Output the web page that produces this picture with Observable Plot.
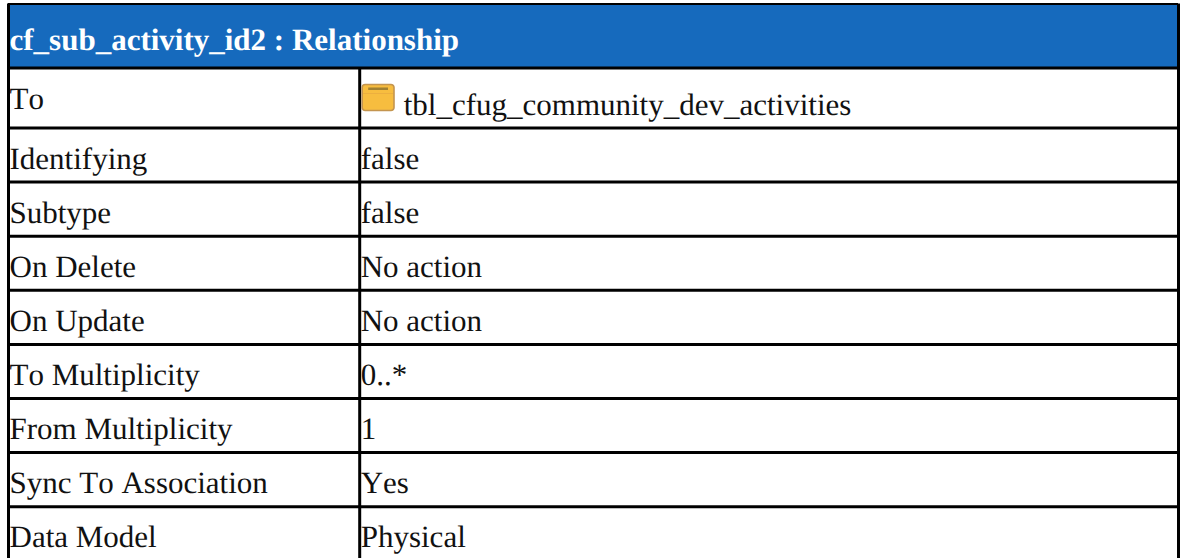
<!DOCTYPE html>
<html>
<head>
<meta charset="utf-8">
<script src="https://cdn.jsdelivr.net/npm/d3@7"></script>
<script src="https://cdn.jsdelivr.net/npm/@observablehq/plot@0.6"></script>
<style>
html,body{margin:0;padding:0;background:#fff;overflow:hidden}
svg{display:block}
svg text{font-kerning:none;text-rendering:geometricPrecision}
</style>
</head>
<body>
<div id="chart"></div>
<script>
const title = "cf_sub_activity_id2 : Relationship";
const rowLabels = ["To","Identifying","Subtype","On Delete","On Update","To Multiplicity","From Multiplicity","Sync To Association","Data Model"];
const rowValues = ["tbl_cfug_community_dev_activities","false","false","No action","No action","0..*","1","Yes","Physical"];

const rows = rowLabels.map((label, i) => ({row: i + 1, label, value: rowValues[i]}));
const plainRows = rows.slice(1);
const toRow = rows.slice(0, 1);
const font = "'Liberation Serif','Times New Roman',Times,serif";
const size = 31;
const ink = "#111";

const separators = d3.range(0, rows.length + 1);
const chart = Plot.plot({
  width: 1180, height: 558,
  margin: 0,
  style: {background: "#fff", fontFamily: font},
  x: {type: "linear", domain: [0, 1, 2], range: [8, 359.2, 1178], axis: null},
  y: {type: "linear", domain: [0, 1, 2, 10], range: [3.5, 67.5, 127.5, 560.3], axis: null},
  marks: [
    // title band
    Plot.rect([0], {x1: 0, x2: 2, y1: 0, y2: 1, fill: "#166abd"}),
    // grid lines
    Plot.ruleY([0], {x1: 0, x2: 2, stroke: "#000", strokeWidth: 2}),
    Plot.ruleY(separators.slice(1), {x1: 0, x2: 2, stroke: "#000", strokeWidth: 3}),
    Plot.ruleX([0, 2], {y1: 0, y2: 10, stroke: "#000", strokeWidth: 3}),
    Plot.ruleX([1], {y1: 1, y2: 10, stroke: "#000", strokeWidth: 3}),
    // table icon
    Plot.rect(toRow, {x1: 1, x2: 2, y1: "row", y2: d => d.row + 1, insetLeft: 3, insetRight: 784, insetTop: 17, insetBottom: 17, fill: "#f7bd3f", stroke: "#c4954f", strokeWidth: 1.6, r: 3}),
    Plot.rect(toRow, {x1: 1, x2: 2, y1: "row", y2: d => d.row + 1, insetLeft: 4, insetRight: 785, insetTop: 25.5, insetBottom: 34, fill: "#e0a040"}),
    Plot.rect(toRow, {x1: 1, x2: 2, y1: "row", y2: d => d.row + 1, insetLeft: 9, insetRight: 790, insetTop: 20, insetBottom: 37.5, fill: "#a08032"}),
    // text
    Plot.text([title], {x: 0, y: 0.5, text: d => d, textAnchor: "start", dx: 1, dy: 3.8, fill: "#fff", fontWeight: "bold", fontSize: size, fontFamily: font}),
    Plot.text(toRow, {x: 0, y: d => d.row + 0.5, text: "label", textAnchor: "start", dx: 1, dy: 0.8, fill: ink, fontSize: size, fontFamily: font}),
    Plot.text(toRow, {x: 1, y: d => d.row + 0.5, text: "value", textAnchor: "start", dx: 44, dy: 6.8, fill: ink, fontSize: size, fontFamily: font}),
    Plot.text(plainRows, {x: 0, y: d => d.row + 0.5, text: "label", textAnchor: "start", dx: 1, dy: 3.8, fill: ink, fontSize: size, fontFamily: font}),
    Plot.text(plainRows, {x: 1, y: d => d.row + 0.5, text: "value", textAnchor: "start", dx: 1, dy: 3.8, fill: ink, fontSize: size, fontFamily: font})
  ]
});
document.getElementById("chart").appendChild(chart);
</script>
</body>
</html>
